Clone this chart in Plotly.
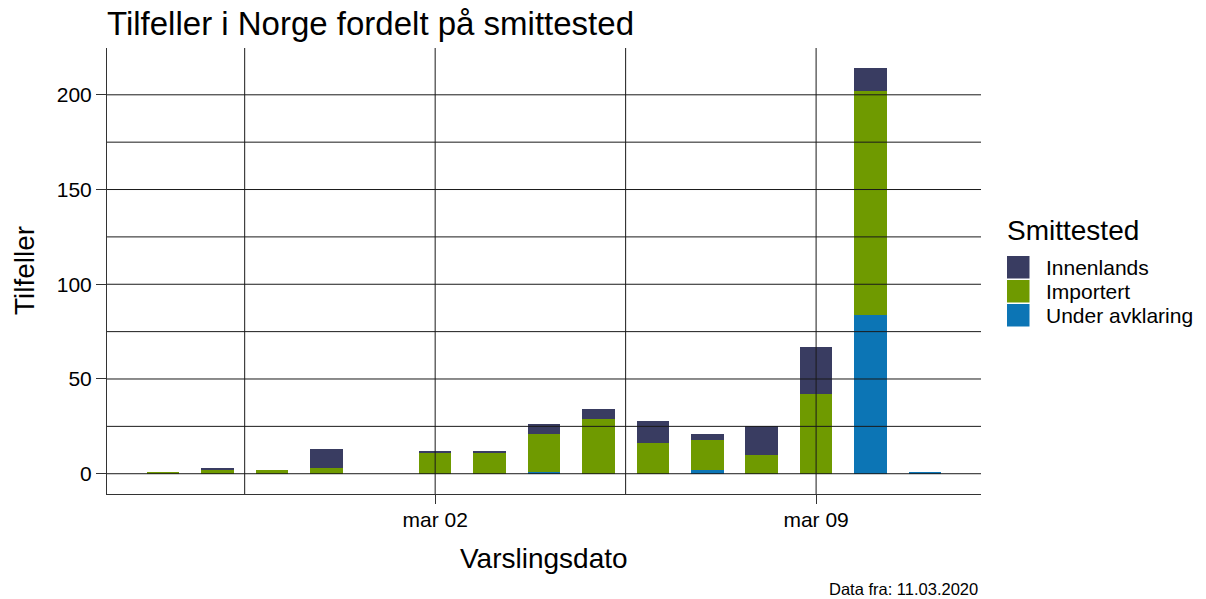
import plotly.graph_objects as go
import pandas as pd

# ---- data ----
dates = ["2020-02-26", "2020-02-27", "2020-02-28", "2020-02-29", "2020-03-02",
         "2020-03-03", "2020-03-04", "2020-03-05", "2020-03-06", "2020-03-07",
         "2020-03-08", "2020-03-09", "2020-03-10", "2020-03-11"]
innenlands = [0, 1, 0, 10, 1, 1, 5, 5, 12, 3, 15, 25, 12, 0]
importert = [1, 2, 2, 3, 11, 11, 20, 29, 16, 16, 10, 42, 118, 0]
under_avklaring = [0, 0, 0, 0, 0, 0, 1, 0, 0, 2, 0, 0, 84, 1]

categories = ["Innenlands", "Importert", "Under avklaring"]
colors = {"Innenlands": "#393C61", "Importert": "#6F9A00", "Under avklaring": "#0C75B5"}

tick_dates = ["2020-03-02", "2020-03-09"]
tick_labels = ["mar 02", "mar 09"]
minor_grid_dates = ["2020-02-27 12:00", "2020-03-05 12:00"]
y_ticks = [0, 50, 100, 150, 200]
y_grid = [0, 25, 50, 75, 100, 125, 150, 175, 200]

title = "Tilfeller i Norge fordelt på smittested"
x_title = "Varslingsdato"
y_title = "Tilfeller"
legend_title = "Smittested"
caption = "Data fra: 11.03.2020"

# ---- layout geometry (pixels) ----
W, H = 1206, 599
L, R, T, B = 107, 981, 48, 494
FONT = "Liberation Sans, Arial, sans-serif"

def px2x(px):
    return (px - L) / (R - L)

def py2y(py):
    return (B - py) / (B - T)

# ---- scales ----
DAY = pd.Timedelta(days=1)
bar_w = 0.6
d = pd.to_datetime(dates)
span_days = (d.max() - d.min()) / DAY + bar_w
pad = 0.05 * span_days + bar_w / 2
x_range = [d.min() - pad * DAY, d.max() + pad * DAY]

totals = [a + b + c for a, b, c in zip(innenlands, importert, under_avklaring)]
ymax = max(totals)
y_range = [-0.05 * ymax, ymax * 1.05]

fig = go.Figure()
series = {"Under avklaring": under_avklaring, "Importert": importert, "Innenlands": innenlands}
for name in ["Under avklaring", "Importert", "Innenlands"]:
    fig.add_trace(go.Bar(
        x=dates, y=series[name], name=name,
        marker=dict(color=colors[name], line=dict(width=0)),
        width=bar_w * 86400000, showlegend=False,
    ))

shapes = []
GRID = "#1a1a1a"
for v in y_grid:
    shapes.append(dict(type="line", xref="paper", yref="y", x0=0, x1=1, y0=v, y1=v,
                       line=dict(color=GRID, width=1), layer="above"))
for v in tick_dates + minor_grid_dates:
    shapes.append(dict(type="line", xref="x", yref="paper", x0=v, x1=v, y0=0, y1=1,
                       line=dict(color=GRID, width=1), layer="above"))

# manual legend keys
key_tops = [256, 280, 304]
for name, top in zip(categories, key_tops):
    shapes.append(dict(type="rect", xref="paper", yref="paper",
                       x0=px2x(1007), x1=px2x(1029.5), y0=py2y(top + 22.5), y1=py2y(top),
                       fillcolor=colors[name], line=dict(width=0)))

annotations = [
    dict(text=y_title, xref="paper", yref="paper", x=px2x(24), y=py2y(271),
         xanchor="center", yanchor="middle", textangle=-90, showarrow=False,
         font=dict(size=28, color="black", family=FONT)),
    dict(text=x_title, xref="paper", yref="paper", x=px2x(544), y=py2y(558),
         xanchor="center", yanchor="middle", showarrow=False,
         font=dict(size=28, color="black", family=FONT)),
    dict(text=caption, xref="paper", yref="paper", x=px2x(980), y=py2y(589),
         xanchor="right", yanchor="middle", showarrow=False,
         font=dict(size=16.5, color="black", family=FONT)),
    dict(text=legend_title, xref="paper", yref="paper", x=px2x(1005), y=py2y(231),
         xanchor="left", yanchor="middle", showarrow=False,
         font=dict(size=28, color="black", family=FONT)),
]
for name, top in zip(categories, key_tops):
    annotations.append(dict(text=name, xref="paper", yref="paper", x=px2x(1044), y=py2y(top + 11.5),
                            xanchor="left", yanchor="middle", showarrow=False,
                            font=dict(size=21, color="black", family=FONT)))

fig.update_layout(
    width=W, height=H,
    margin=dict(l=L, r=W - R, t=T, b=H - B, pad=0),
    paper_bgcolor="white", plot_bgcolor="white",
    barmode="stack", bargap=0,
    font=dict(family=FONT, color="black"),
    title=dict(text=title, x=L / W, xanchor="left", xref="container",
               y=1 - 23 / H, yanchor="middle", yref="container",
               font=dict(size=33, color="black", family=FONT)),
    xaxis=dict(type="date", range=x_range, showgrid=False, zeroline=False,
               tickmode="array", tickvals=tick_dates, ticktext=tick_labels,
               ticks="outside", ticklen=9, tickcolor="#333333", tickwidth=1,
               showline=True, linecolor="#333333", linewidth=1,
               ticklabelstandoff=-2,
               tickfont=dict(size=21, color="black", family=FONT)),
    yaxis=dict(range=y_range, showgrid=False, zeroline=False,
               tickmode="array", tickvals=y_ticks,
               ticks="outside", ticklen=10, tickcolor="#333333", tickwidth=1,
               showline=True, linecolor="#333333", linewidth=1,
               tickfont=dict(size=21, color="black", family=FONT)),
    shapes=shapes, annotations=annotations, showlegend=False,
)

fig.write_html("out.html", config={"displayModeBar": False},
               post_script="document.body.style.margin='0';")
